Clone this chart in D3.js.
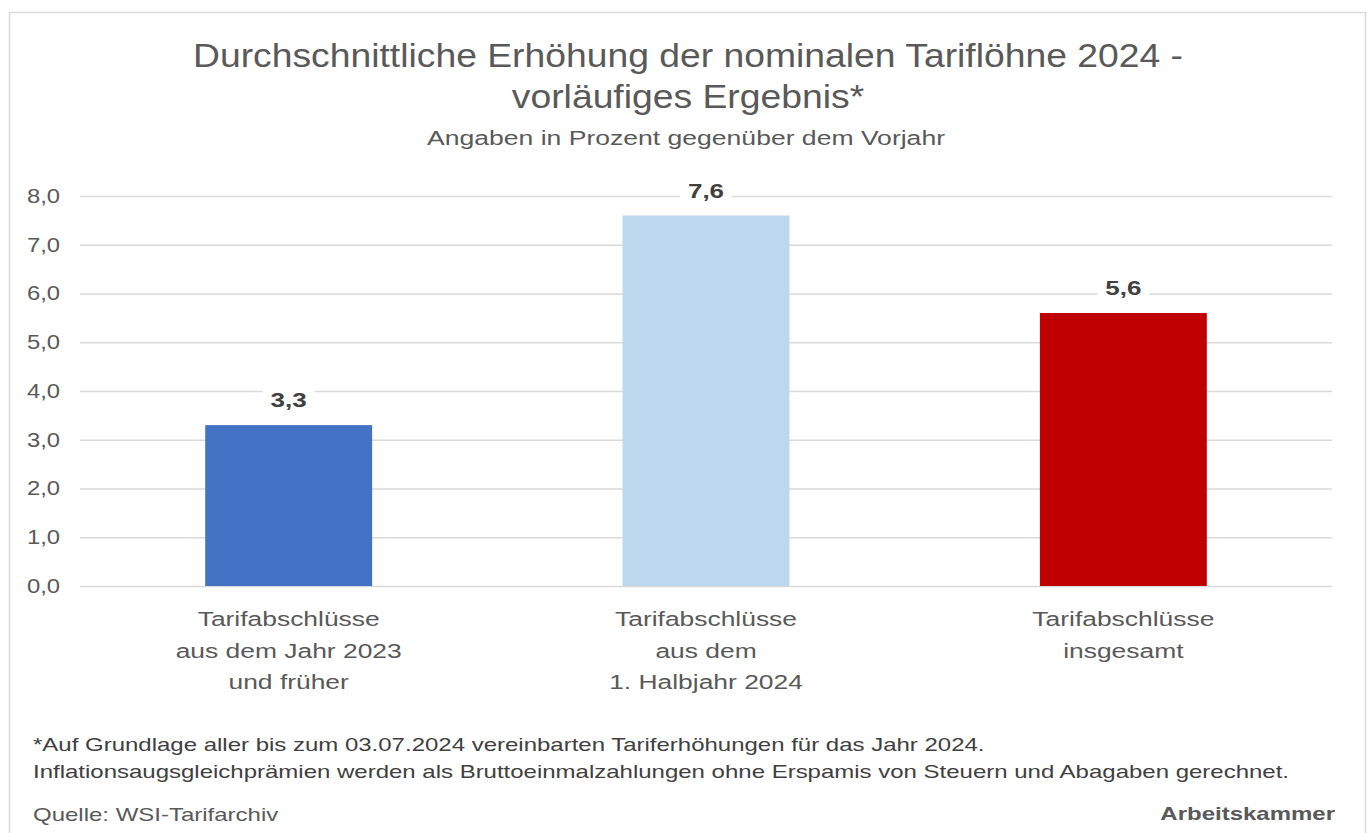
<!DOCTYPE html>
<html><head><meta charset="utf-8">
<script src="https://cdn.jsdelivr.net/npm/d3@7"></script>
<style>body{margin:0;background:#fff;}svg{display:block;font-family:"Liberation Sans",Arial,sans-serif;}</style>
</head><body><svg id="c" width="1370" height="833"></svg>
<script>
const categories = [
  ["Tarifabschlüsse","aus dem Jahr 2023","und früher"],
  ["Tarifabschlüsse","aus dem","1. Halbjahr 2024"],
  ["Tarifabschlüsse","insgesamt"]
];
const values = [3.3, 7.6, 5.6];
const colors = ["#4472C4", "#BDD7EE", "#C00000"];
const yTicks = [0,1,2,3,4,5,6,7,8];
const titleLines = ["Durchschnittliche Erhöhung der nominalen Tariflöhne 2024 -", "vorläufiges Ergebnis*"];
const subtitle = "Angaben in Prozent gegenüber dem Vorjahr";
const footnotes = ["*Auf Grundlage aller bis zum 03.07.2024 vereinbarten Tariferhöhungen für das Jahr 2024.",
  "Inflationsaugsgleichprämien werden als Bruttoeinmalzahlungen ohne Erspamis von Steuern und Abagaben gerechnet."];
const source = "Quelle: WSI-Tarifarchiv";
const brand = "Arbeitskammer";

const svg = d3.select("#c");
const fmt = v => d3.format(".1f")(v).replace(".", ",");
const grey = "#595959";

// horizontally stretch text by factor k
function stretch(sel, k) {
  sel.each(function() {
    const w = this.getComputedTextLength();
    d3.select(this).attr("textLength", w * k).attr("lengthAdjust", "spacingAndGlyphs");
  });
}

svg.append("rect").attr("x",9.5).attr("y",12.5).attr("width",1356).attr("height",840)
  .attr("fill","#fff").attr("stroke","#d9d9d9").attr("stroke-width",1.5);

const L=80, R=1332, T=196, B=586;
const x = d3.scaleBand().domain(d3.range(values.length)).range([L,R]).paddingInner(0.6).paddingOuter(0.3);
const y = d3.scaleLinear().domain([0,8]).range([B,T]);

// title
const tt = svg.selectAll("text.title").data(titleLines).join("text").attr("class","title")
  .attr("x",688).attr("y",(d,i)=>67+i*41).attr("text-anchor","middle")
  .attr("font-size",34).attr("fill",grey).text(d=>d);
const kT = 990 / tt.node().getComputedTextLength();
stretch(tt, kT);
const st = svg.append("text").attr("x",686).attr("y",145).attr("text-anchor","middle")
  .attr("font-size",20).attr("fill",grey).text(subtitle);
stretch(st, 518 / st.node().getComputedTextLength());

// grid
const yAxis = d3.axisLeft(y).tickValues(yTicks).tickFormat(fmt).tickSize(-(R-L)).tickPadding(20);
const ga = svg.append("g").attr("transform",`translate(${L},0)`).call(yAxis);
ga.select(".domain").remove();
ga.selectAll(".tick line").attr("stroke","#d9d9d9").attr("stroke-width",1.5);
ga.selectAll(".tick text").attr("fill",grey).attr("font-size",20).attr("font-family","Liberation Sans, Arial, sans-serif");
stretch(ga.selectAll(".tick text"), 1.19);

// bars
svg.selectAll("rect.bar").data(values).join("rect").attr("class","bar")
  .attr("x",(d,i)=>x(i)).attr("width",x.bandwidth())
  .attr("y",d=>y(d)).attr("height",d=>y(0)-y(d)).attr("fill",(d,i)=>colors[i]);

// value labels with white bg
const lbl = svg.selectAll("g.lbl").data(values).join("g").attr("class","lbl")
  .attr("transform",(d,i)=>`translate(${x(i)+x.bandwidth()/2},${y(d)-18})`);
lbl.append("rect").attr("x",-26).attr("y",-20).attr("width",52).attr("height",28).attr("fill","#fff");
const vt = lbl.append("text").attr("text-anchor","middle").attr("font-size",20).attr("font-weight","bold")
  .attr("fill","#404040").text(d=>fmt(d));
stretch(vt, 1.3);

// category labels
const cg = svg.selectAll("g.cat").data(categories).join("g").attr("class","cat")
  .attr("transform",(d,i)=>`translate(${x(i)+x.bandwidth()/2},626)`);
const ct = cg.selectAll("text").data(d=>d).join("text").attr("text-anchor","middle")
  .attr("y",(d,i)=>i*31.5).attr("font-size",20).attr("fill",grey).text(d=>d);
stretch(ct, 1.32);

// footnotes
const fn = svg.selectAll("text.fn").data(footnotes).join("text").attr("class","fn")
  .attr("x",33).attr("y",(d,i)=>751+i*27).attr("font-size",19).attr("fill","#404040").text(d=>d);
const kF = 1256 / fn.nodes()[1].getComputedTextLength();
stretch(fn, kF);
const so = svg.append("text").attr("x",33).attr("y",821).attr("font-size",19).attr("fill",grey).text(source);
stretch(so, kF);
const br = svg.append("text").attr("x",1335).attr("y",820).attr("text-anchor","end").attr("font-size",19)
  .attr("font-weight","bold").attr("fill",grey).text(brand);
stretch(br, kF);
</script></body></html>
